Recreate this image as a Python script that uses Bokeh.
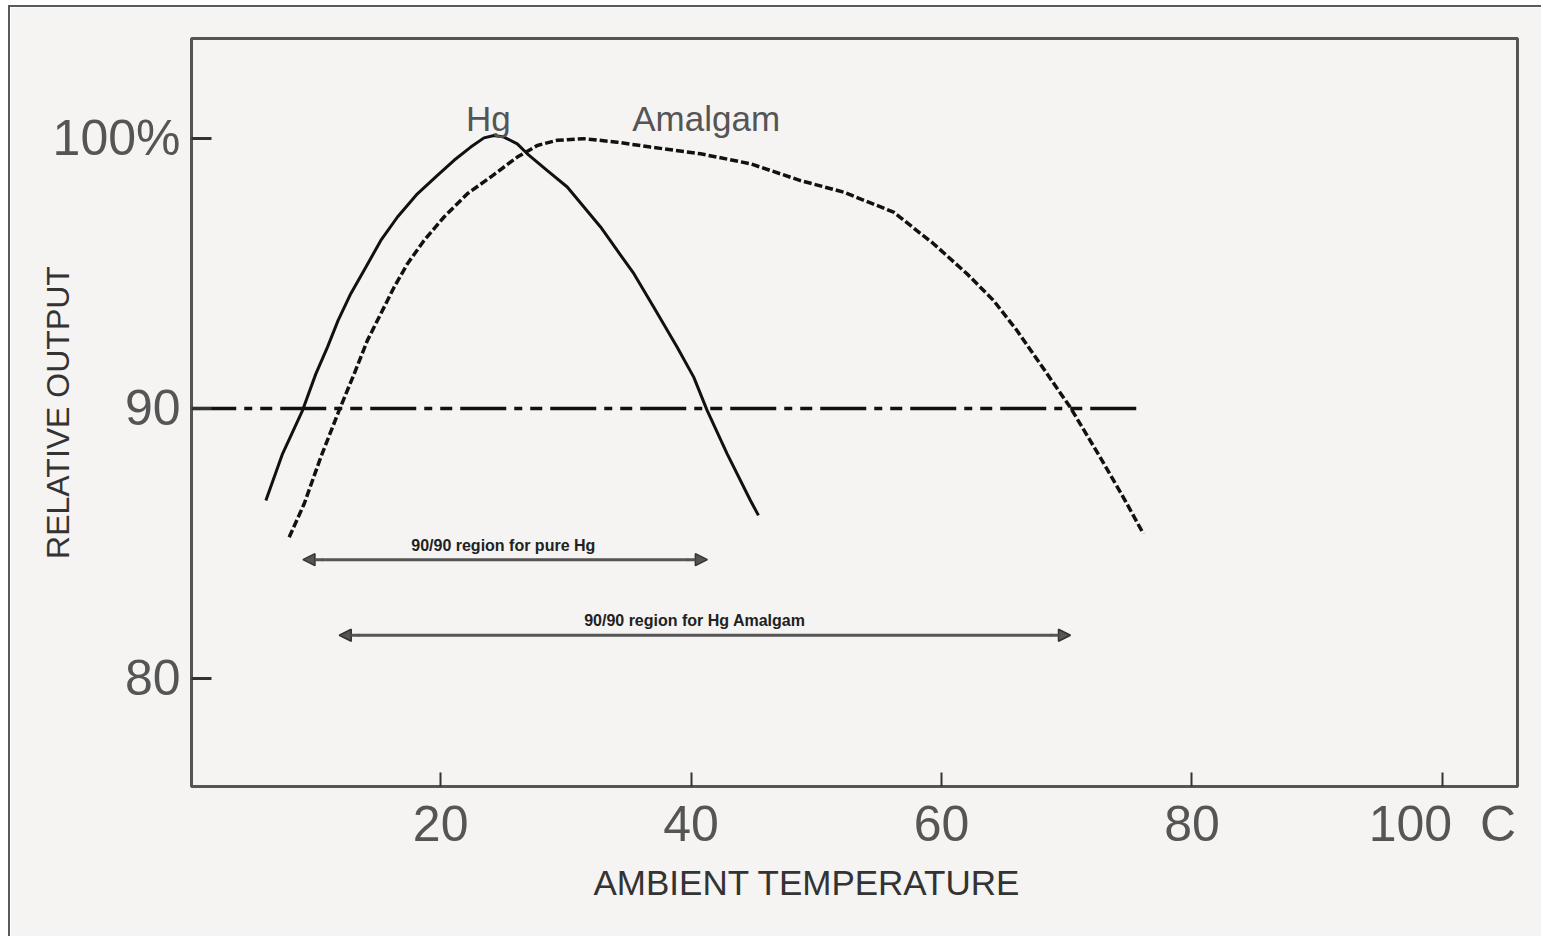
from bokeh.plotting import figure
from bokeh.models import Range1d, FixedTicker, Label, Arrow, NormalHead, Title
from bokeh.embed import file_html
from bokeh.resources import INLINE

# ---- data ----
hg_temp = [6.04, 7.37, 8.97, 10.03, 10.96, 11.81, 12.82, 14.02, 15.22, 16.55, 18.14, 19.74,
           21.07, 22.40, 23.46, 24.26, 25.05, 26.12, 26.92, 28.52, 30.11, 31.44, 32.77,
           34.10, 35.43, 37.02, 38.89, 40.21, 41.28, 42.88, 44.74, 45.38]
hg_output = [86.59, 88.32, 89.93, 91.28, 92.27, 93.26, 94.25, 95.23, 96.22, 97.09, 97.95, 98.63,
             99.19, 99.68, 100.02, 100.11, 100.05, 99.80, 99.43, 98.81, 98.20, 97.46, 96.72,
             95.85, 94.99, 93.75, 92.27, 91.16, 89.93, 88.32, 86.59, 86.04]

amalgam_temp = [7.90, 9.10, 10.43, 11.89, 13.09, 14.15, 15.22, 16.28, 17.35, 18.67, 20.27,
                22.13, 23.99, 26.12, 27.72, 29.31, 31.44, 34.10, 36.76, 40.75, 44.74, 48.73,
                52.18, 56.17, 59.36, 62.03, 64.15, 66.02, 67.88, 70.27, 72.66, 74.52, 76.12]
amalgam_output = [85.23, 86.47, 88.20, 89.93, 91.28, 92.52, 93.51, 94.49, 95.36, 96.22, 97.09,
                  97.95, 98.57, 99.31, 99.74, 99.93, 99.99, 99.86, 99.68, 99.43, 99.06, 98.44,
                  98.01, 97.27, 96.10, 94.99, 94.00, 92.89, 91.65, 90.05, 88.20, 86.71, 85.36]

threshold_temp = [0, 76.1]
threshold_output = [90, 90]

hg_region = [9.0, 41.3]          # 90/90 region for pure Hg
hg_region_level = 84.4
amalgam_region = [11.9, 70.3]    # 90/90 region for Hg Amalgam
amalgam_region_level = 81.6

x_ticks = [20, 40, 60, 80, 100]
x_tick_labels = {100: "100\u00a0\u00a0C"}
y_ticks = [80, 90, 100]
y_tick_labels = {80: "80", 90: "90", 100: "100%"}

FONT = "Liberation Sans"
INK = "#111111"
GREY = "#555555"
BG = "#f5f4f2"

p = figure(frame_width=1326, frame_height=748,
           x_range=Range1d(0.1, 106), y_range=Range1d(76, 103.7),
           output_backend="svg", toolbar_location=None,
           min_border_left=181, min_border_top=31, min_border_right=24, min_border_bottom=150)
p.margin = (5, 0, 0, 8)
p.styles = {"border-left": "2px solid #5a5a5a", "border-top": "2px solid #5a5a5a"}

p.background_fill_color = BG
p.border_fill_color = BG
p.grid.visible = False
p.outline_line_color = "#555555"
p.outline_line_width = 3

# axes
p.xaxis.ticker = FixedTicker(ticks=x_ticks)
p.xaxis.major_label_overrides = x_tick_labels
p.yaxis.ticker = FixedTicker(ticks=y_ticks)
p.yaxis.major_label_overrides = y_tick_labels
for ax in (p.xaxis[0], p.yaxis[0]):
    ax.major_tick_out = 0
    ax.minor_tick_in = 0
    ax.minor_tick_out = 0
    ax.axis_line_color = "#555555"
    ax.major_tick_line_color = "#333333"
    ax.major_label_text_font = FONT
    ax.major_label_text_font_size = "50px"
    ax.major_label_text_color = GREY
    ax.axis_label_text_font = FONT
    ax.axis_label_text_font_style = "normal"
    ax.axis_label_text_color = "#333333"
p.xaxis.major_tick_in = 14
p.yaxis.major_tick_in = 20
p.xaxis.axis_line_width = 3
p.yaxis.axis_line_width = 2
p.xaxis.major_tick_line_width = 2
p.yaxis.major_tick_line_width = 3
p.xaxis.major_label_standoff = 9
p.yaxis.major_label_standoff = 11
p.yaxis.axis_label = "RELATIVE OUTPUT"
p.yaxis.axis_label_text_font_size = "32px"
p.yaxis.axis_label_standoff = -26

# x axis title
p.add_layout(Title(text="AMBIENT TEMPERATURE", align="left", offset=402, standoff=12,
                   text_font=FONT, text_font_size="35px", text_font_style="normal",
                   text_color="#333333"), "below")

# 90% threshold line
p.line(threshold_temp, threshold_output, line_color=INK, line_width=3.5,
       line_dash="46 8 8 8 12 8")

# curves
p.line(hg_temp, hg_output, line_color=INK, line_width=3)
p.line(amalgam_temp, amalgam_output, line_color=INK, line_width=3.5, line_dash="8 3")

# curve names
p.add_layout(Label(x=23.8, y=100.75, text="Hg", text_font=FONT, text_font_size="35px",
                   text_color=GREY, text_align="center", text_baseline="alphabetic"))
p.add_layout(Label(x=41.2, y=100.75, text="Amalgam", text_font=FONT, text_font_size="35px",
                   text_color=GREY, text_align="center", text_baseline="alphabetic"))

# 90/90 region arrows
for (x0, x1), lvl, txt, tx in [(hg_region, hg_region_level, "90/90 region for pure Hg", 25.0),
                              (amalgam_region, amalgam_region_level, "90/90 region for Hg Amalgam", 40.3)]:
    p.add_layout(Arrow(x_start=x0 + 1.6, y_start=lvl, x_end=x0, y_end=lvl,
                       line_color=GREY, line_width=3,
                       end=NormalHead(size=12, fill_color=GREY, line_color="#333333", line_width=1.5)))
    p.add_layout(Arrow(x_start=x1 - 1.6, y_start=lvl, x_end=x1, y_end=lvl,
                       line_color=GREY, line_width=3,
                       end=NormalHead(size=12, fill_color=GREY, line_color="#333333", line_width=1.5)))
    p.segment(x0=[x0 + 1.5], y0=[lvl], x1=[x1 - 1.5], y1=[lvl], line_color=GREY, line_width=3)
    p.add_layout(Label(x=tx, y=lvl, y_offset=6, text=txt, text_font=FONT, text_font_size="16px",
                       text_font_style="bold", text_color="#222222", text_align="center",
                       text_baseline="bottom"))

open("out.html", "w").write(file_html(p, INLINE))
